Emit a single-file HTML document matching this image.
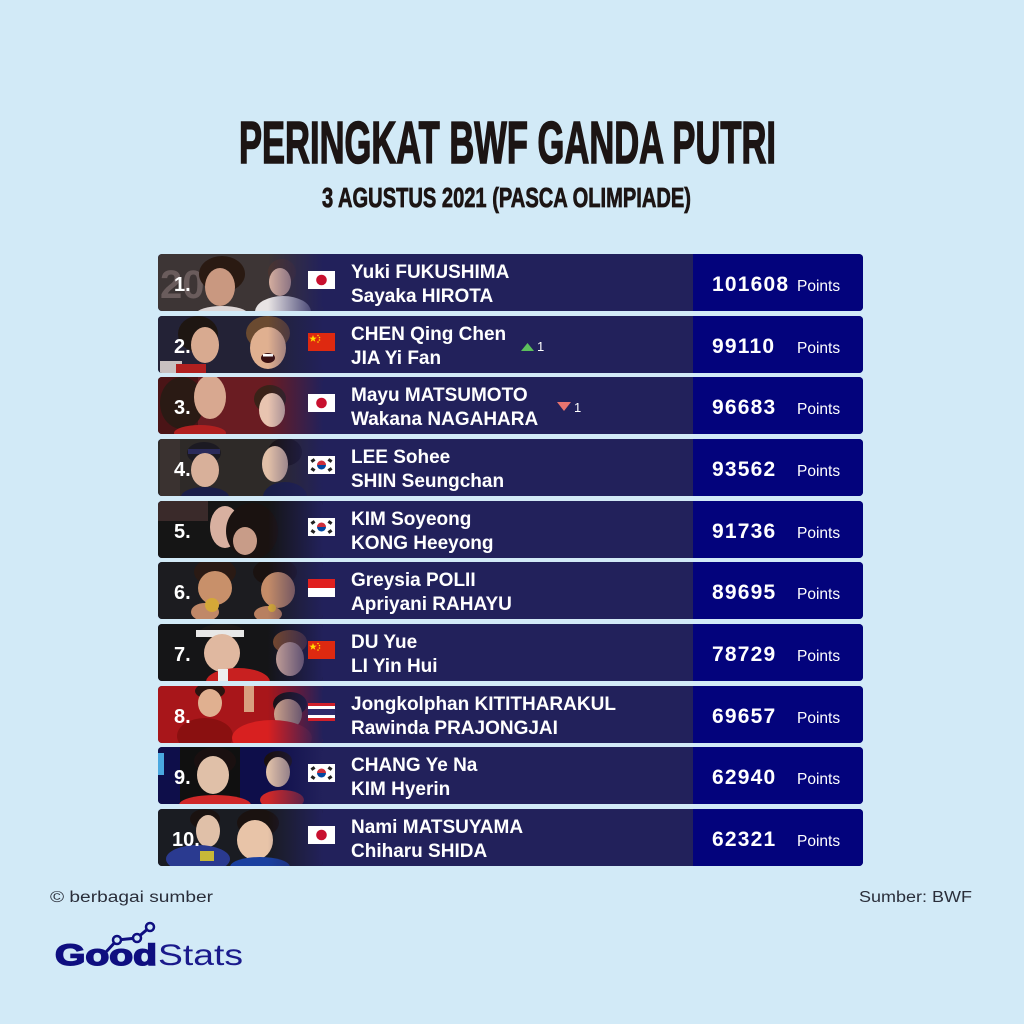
<!DOCTYPE html>
<html>
<head>
<meta charset="utf-8">
<style>
html,body{margin:0;padding:0;background:#d2eaf7;}
svg{display:block;}
.nm{font-family:"Liberation Sans",sans-serif;font-weight:bold;font-size:19px;fill:#ffffff;}
.rk{font-family:"Liberation Sans",sans-serif;font-weight:bold;font-size:20px;fill:#ffffff;}
.pt{font-family:"Liberation Sans",sans-serif;font-weight:bold;font-size:21px;fill:#ffffff;letter-spacing:1.2px;}
.pl{font-family:"Liberation Sans",sans-serif;font-size:15.5px;fill:#ffffff;}
.ind{font-family:"Liberation Sans",sans-serif;font-size:13px;fill:#ffffff;}
</style>
</head>
<body>
<svg width="1024" height="1024" viewBox="0 0 1024 1024" xmlns="http://www.w3.org/2000/svg">
<defs>
  <clipPath id="ph" clipPathUnits="userSpaceOnUse"><rect x="158" y="0" width="165" height="57" rx="4"/></clipPath>
  <linearGradient id="fade" x1="0" y1="0" x2="1" y2="0">
    <stop offset="0" stop-color="#22215b" stop-opacity="0"/>
    <stop offset="1" stop-color="#22215b" stop-opacity="1"/>
  </linearGradient>
  <g id="fJP"><rect x="0" y="0" width="27" height="18" fill="#ffffff"/><circle cx="13.5" cy="9" r="5.3" fill="#c8102e"/></g>
  <g id="fCN"><rect x="0" y="0" width="27" height="18" fill="#de2910"/><polygon points="5,2 6,4.6 8.7,4.6 6.5,6.2 7.3,8.8 5,7.2 2.7,8.8 3.5,6.2 1.3,4.6 4,4.6" fill="#ffde00"/><circle cx="10" cy="2.5" r="0.8" fill="#ffde00"/><circle cx="11.5" cy="4.5" r="0.8" fill="#ffde00"/><circle cx="11.5" cy="7" r="0.8" fill="#ffde00"/><circle cx="10" cy="9" r="0.8" fill="#ffde00"/></g>
  <g id="fKR"><rect x="0" y="0" width="27" height="18" fill="#ffffff"/><path d="M9,9 A4.5,4.5 0 0 1 18,9 Z" fill="#cd2e3a"/><path d="M9,9 A4.5,4.5 0 0 0 18,9 Z" fill="#0047a0"/><rect x="3" y="3" width="4" height="3" fill="#222" transform="rotate(-35 5 4.5)"/><rect x="20" y="3" width="4" height="3" fill="#222" transform="rotate(35 22 4.5)"/><rect x="3" y="12" width="4" height="3" fill="#222" transform="rotate(35 5 13.5)"/><rect x="20" y="12" width="4" height="3" fill="#222" transform="rotate(-35 22 13.5)"/></g>
  <g id="fID"><rect x="0" y="0" width="27" height="9" fill="#e0201f"/><rect x="0" y="9" width="27" height="9" fill="#ffffff"/></g>
  <g id="fTH"><rect x="0" y="0" width="27" height="18" fill="#d0202a"/><rect x="0" y="3" width="27" height="12" fill="#ffffff"/><rect x="0" y="6" width="27" height="6" fill="#2d2a6a"/></g>
</defs>

<rect x="0" y="0" width="1024" height="1024" fill="#d2eaf7"/>

<!-- Title -->
<text x="239" y="163" textLength="537" lengthAdjust="spacingAndGlyphs" font-family="Liberation Sans Narrow, Liberation Sans, sans-serif" font-weight="bold" font-size="59" fill="#1c1514" stroke="#1c1514" stroke-width="1.6">PERINGKAT BWF GANDA PUTRI</text>
<text x="322" y="207" textLength="369" lengthAdjust="spacingAndGlyphs" font-family="Liberation Sans Narrow, Liberation Sans, sans-serif" font-weight="bold" font-size="28" fill="#1c1514" stroke="#1c1514" stroke-width="0.8">3 AGUSTUS 2021 (PASCA OLIMPIADE)</text>

<!-- Row 1 -->
<g transform="translate(0,254)">
  <rect x="158" y="0" width="705" height="57" rx="4" fill="#22215b"/>
  <g clip-path="url(#ph)">
    <rect x="158" y="0" width="165" height="57" fill="#3d3535"/>
    <text x="160" y="44" font-family="Liberation Sans, sans-serif" font-weight="bold" font-size="40" fill="#6a5c5c">20</text>
    <ellipse cx="222" cy="20" rx="23" ry="18" fill="#2a1a12"/>
    <ellipse cx="220" cy="33" rx="15" ry="19" fill="#c99880"/>
    <ellipse cx="222" cy="60" rx="26" ry="8" fill="#ddd6d6"/>
    <ellipse cx="282" cy="18" rx="14" ry="13" fill="#4a3530"/>
    <ellipse cx="280" cy="28" rx="11" ry="14" fill="#d8b0a0"/>
    <ellipse cx="283" cy="58" rx="28" ry="16" fill="#e8e4e4"/>
    <rect x="268" y="0" width="55" height="57" fill="url(#fade)"/>
  </g>
  <text class="rk" x="174" y="37">1.</text>
  <use href="#fJP" x="308" y="17"/>
  <text class="nm" x="351" y="24">Yuki FUKUSHIMA</text>
  <text class="nm" x="351" y="48">Sayaka HIROTA</text>
  <rect x="693" y="0" width="170" height="57" rx="4" fill="#03037c"/><rect x="693" y="0" width="8" height="57" fill="#03037c"/>
  <text class="pt" x="712" y="37">101608</text>
  <text class="pl" x="797" y="37">Points</text>
</g>

<!-- Row 2 -->
<g transform="translate(0,316)">
  <rect x="158" y="0" width="705" height="57" rx="4" fill="#22215b"/>
  <g clip-path="url(#ph)">
    <rect x="158" y="0" width="165" height="57" fill="#232236"/>
    <ellipse cx="198" cy="18" rx="20" ry="18" fill="#1e1612"/>
    <ellipse cx="205" cy="29" rx="14" ry="18" fill="#d8aa90"/>
    <rect x="160" y="45" width="22" height="12" fill="#c8c0c0"/>
    <rect x="176" y="48" width="30" height="9" fill="#b02020"/>
    <ellipse cx="268" cy="17" rx="22" ry="17" fill="#6a4a30"/>
    <ellipse cx="268" cy="32" rx="18" ry="21" fill="#e0b090"/>
    <ellipse cx="268" cy="42" rx="7" ry="5" fill="#3a1010"/>
    <rect x="263" y="38" width="10" height="2.5" fill="#ffffff"/>
    <rect x="268" y="0" width="55" height="57" fill="url(#fade)"/>
  </g>
  <text class="rk" x="174" y="37">2.</text>
  <use href="#fCN" x="308" y="17"/>
  <text class="nm" x="351" y="24">CHEN Qing Chen</text>
  <text class="nm" x="351" y="48">JIA Yi Fan</text>
  <polygon points="521,35 534,35 527.5,27" fill="#5cbf5c"/>
  <text class="ind" x="537" y="35">1</text>
  <rect x="693" y="0" width="170" height="57" rx="4" fill="#03037c"/><rect x="693" y="0" width="8" height="57" fill="#03037c"/>
  <text class="pt" x="712" y="37">99110</text>
  <text class="pl" x="797" y="37">Points</text>
</g>

<!-- Row 3 -->
<g transform="translate(0,377)">
  <rect x="158" y="0" width="705" height="57" rx="4" fill="#22215b"/>
  <g clip-path="url(#ph)">
    <rect x="158" y="0" width="165" height="57" fill="#6a1c22"/>
    <rect x="158" y="0" width="40" height="57" fill="#4a1416"/>
    <ellipse cx="182" cy="26" rx="22" ry="26" fill="#2a1a14"/>
    <ellipse cx="210" cy="20" rx="16" ry="22" fill="#d8a890"/>
    <ellipse cx="200" cy="56" rx="26" ry="8" fill="#b02020"/>
    <ellipse cx="270" cy="22" rx="16" ry="14" fill="#3a2218"/>
    <ellipse cx="272" cy="33" rx="13" ry="17" fill="#e8c4b0"/>
    <rect x="268" y="0" width="55" height="57" fill="url(#fade)"/>
  </g>
  <text class="rk" x="174" y="37">3.</text>
  <use href="#fJP" x="308" y="17"/>
  <text class="nm" x="351" y="24">Mayu MATSUMOTO</text>
  <text class="nm" x="351" y="48">Wakana NAGAHARA</text>
  <polygon points="557,25 571,25 564,34" fill="#e8736f"/>
  <text class="ind" x="574" y="35">1</text>
  <rect x="693" y="0" width="170" height="57" rx="4" fill="#03037c"/><rect x="693" y="0" width="8" height="57" fill="#03037c"/>
  <text class="pt" x="712" y="37">96683</text>
  <text class="pl" x="797" y="37">Points</text>
</g>

<!-- Row 4 -->
<g transform="translate(0,439)">
  <rect x="158" y="0" width="705" height="57" rx="4" fill="#22215b"/>
  <g clip-path="url(#ph)">
    <rect x="158" y="0" width="165" height="57" fill="#2e2a28"/>
    <rect x="160" y="0" width="20" height="57" fill="#3a3230"/>
    <ellipse cx="204" cy="14" rx="17" ry="11" fill="#1c1a22"/>
    <rect x="188" y="10" width="32" height="5" fill="#2a2a5a"/>
    <ellipse cx="205" cy="31" rx="14" ry="17" fill="#d8b09a"/>
    <ellipse cx="205" cy="58" rx="24" ry="10" fill="#1a1e48"/>
    <ellipse cx="285" cy="13" rx="17" ry="14" fill="#1a1412"/>
    <ellipse cx="275" cy="25" rx="13" ry="18" fill="#e2c0a8"/>
    <ellipse cx="285" cy="58" rx="22" ry="15" fill="#1a1e48"/>
    <rect x="268" y="0" width="55" height="57" fill="url(#fade)"/>
  </g>
  <text class="rk" x="174" y="37">4.</text>
  <use href="#fKR" x="308" y="17"/>
  <text class="nm" x="351" y="24">LEE Sohee</text>
  <text class="nm" x="351" y="48">SHIN Seungchan</text>
  <rect x="693" y="0" width="170" height="57" rx="4" fill="#03037c"/><rect x="693" y="0" width="8" height="57" fill="#03037c"/>
  <text class="pt" x="712" y="37">93562</text>
  <text class="pl" x="797" y="37">Points</text>
</g>

<!-- Row 5 -->
<g transform="translate(0,501)">
  <rect x="158" y="0" width="705" height="57" rx="4" fill="#22215b"/>
  <g clip-path="url(#ph)">
    <rect x="158" y="0" width="165" height="57" fill="#151515"/>
    <rect x="158" y="0" width="50" height="20" fill="#3a2a2a"/>
    <ellipse cx="225" cy="26" rx="15" ry="21" fill="#d8b0a0"/>
    <ellipse cx="252" cy="30" rx="26" ry="28" fill="#1a1210"/>
    <ellipse cx="245" cy="40" rx="12" ry="14" fill="#c89c88"/>
    <rect x="268" y="0" width="55" height="57" fill="url(#fade)"/>
  </g>
  <text class="rk" x="174" y="37">5.</text>
  <use href="#fKR" x="308" y="17"/>
  <text class="nm" x="351" y="24">KIM Soyeong</text>
  <text class="nm" x="351" y="48">KONG Heeyong</text>
  <rect x="693" y="0" width="170" height="57" rx="4" fill="#03037c"/><rect x="693" y="0" width="8" height="57" fill="#03037c"/>
  <text class="pt" x="712" y="37">91736</text>
  <text class="pl" x="797" y="37">Points</text>
</g>

<!-- Row 6 -->
<g transform="translate(0,562)">
  <rect x="158" y="0" width="705" height="57" rx="4" fill="#22215b"/>
  <g clip-path="url(#ph)">
    <rect x="158" y="0" width="165" height="57" fill="#1c1c20"/>
    <ellipse cx="215" cy="10" rx="21" ry="14" fill="#2a1a14"/>
    <ellipse cx="215" cy="26" rx="17" ry="17" fill="#c8906a"/>
    <ellipse cx="205" cy="50" rx="14" ry="9" fill="#c08868"/>
    <circle cx="212" cy="43" r="7" fill="#d4a838"/>
    <ellipse cx="275" cy="10" rx="22" ry="14" fill="#1a1210"/>
    <ellipse cx="278" cy="28" rx="17" ry="18" fill="#c48c68"/>
    <ellipse cx="268" cy="52" rx="14" ry="8" fill="#b88060"/>
    <circle cx="272" cy="46" r="4" fill="#d4a838"/>
    <rect x="268" y="0" width="55" height="57" fill="url(#fade)"/>
  </g>
  <text class="rk" x="174" y="37">6.</text>
  <use href="#fID" x="308" y="17"/>
  <text class="nm" x="351" y="24">Greysia POLII</text>
  <text class="nm" x="351" y="48">Apriyani RAHAYU</text>
  <rect x="693" y="0" width="170" height="57" rx="4" fill="#03037c"/><rect x="693" y="0" width="8" height="57" fill="#03037c"/>
  <text class="pt" x="712" y="37">89695</text>
  <text class="pl" x="797" y="37">Points</text>
</g>

<!-- Row 7 -->
<g transform="translate(0,624)">
  <rect x="158" y="0" width="705" height="57" rx="4" fill="#22215b"/>
  <g clip-path="url(#ph)">
    <rect x="158" y="0" width="165" height="57" fill="#151517"/>
    <ellipse cx="222" cy="8" rx="22" ry="8" fill="#1e1a18"/>
    <rect x="196" y="6" width="48" height="7" fill="#e8e8e8"/>
    <ellipse cx="222" cy="29" rx="18" ry="19" fill="#e0b8a0"/>
    <ellipse cx="238" cy="58" rx="32" ry="14" fill="#c82020"/>
    <rect x="218" y="45" width="10" height="12" fill="#eeeeee"/>
    <ellipse cx="290" cy="18" rx="17" ry="12" fill="#7a4a2a"/>
    <ellipse cx="290" cy="35" rx="14" ry="17" fill="#d8b0a0"/>
    <rect x="268" y="0" width="55" height="57" fill="url(#fade)"/>
  </g>
  <text class="rk" x="174" y="37">7.</text>
  <use href="#fCN" x="308" y="17"/>
  <text class="nm" x="351" y="24">DU Yue</text>
  <text class="nm" x="351" y="48">LI Yin Hui</text>
  <rect x="693" y="0" width="170" height="57" rx="4" fill="#03037c"/><rect x="693" y="0" width="8" height="57" fill="#03037c"/>
  <text class="pt" x="712" y="37">78729</text>
  <text class="pl" x="797" y="37">Points</text>
</g>

<!-- Row 8 -->
<g transform="translate(0,686)">
  <rect x="158" y="0" width="705" height="57" rx="4" fill="#22215b"/>
  <g clip-path="url(#ph)">
    <rect x="158" y="0" width="165" height="57" fill="#a8161a"/>
    <ellipse cx="210" cy="5" rx="15" ry="8" fill="#2a1410"/>
    <ellipse cx="210" cy="17" rx="12" ry="14" fill="#e0b090"/>
    <ellipse cx="205" cy="50" rx="28" ry="18" fill="#8a1010"/>
    <rect x="244" y="0" width="10" height="26" fill="#d8a080"/>
    <ellipse cx="290" cy="18" rx="17" ry="12" fill="#1a1010"/>
    <ellipse cx="288" cy="28" rx="14" ry="15" fill="#e0b090"/>
    <ellipse cx="272" cy="52" rx="40" ry="18" fill="#d82020"/>
    <rect x="268" y="0" width="55" height="57" fill="url(#fade)"/>
  </g>
  <text class="rk" x="174" y="37">8.</text>
  <use href="#fTH" x="308" y="17"/>
  <text class="nm" x="351" y="24">Jongkolphan KITITHARAKUL</text>
  <text class="nm" x="351" y="48">Rawinda PRAJONGJAI</text>
  <rect x="693" y="0" width="170" height="57" rx="4" fill="#03037c"/><rect x="693" y="0" width="8" height="57" fill="#03037c"/>
  <text class="pt" x="712" y="37">69657</text>
  <text class="pl" x="797" y="37">Points</text>
</g>

<!-- Row 9 -->
<g transform="translate(0,747)">
  <rect x="158" y="0" width="705" height="57" rx="4" fill="#22215b"/>
  <g clip-path="url(#ph)">
    <rect x="158" y="0" width="165" height="57" fill="#0e0e4a"/>
    <rect x="158" y="6" width="6" height="22" fill="#4aa8e0"/>
    <rect x="180" y="0" width="60" height="57" fill="#101010"/>
    <ellipse cx="215" cy="14" rx="21" ry="14" fill="#1a1010"/>
    <ellipse cx="213" cy="28" rx="16" ry="19" fill="#e0c0a8"/>
    <ellipse cx="215" cy="58" rx="36" ry="10" fill="#d02828"/>
    <ellipse cx="278" cy="14" rx="14" ry="10" fill="#1a1010"/>
    <ellipse cx="278" cy="25" rx="12" ry="15" fill="#e0c0a8"/>
    <ellipse cx="282" cy="53" rx="22" ry="10" fill="#d02828"/>
    <rect x="268" y="0" width="55" height="57" fill="url(#fade)"/>
  </g>
  <text class="rk" x="174" y="37">9.</text>
  <use href="#fKR" x="308" y="17"/>
  <text class="nm" x="351" y="24">CHANG Ye Na</text>
  <text class="nm" x="351" y="48">KIM Hyerin</text>
  <rect x="693" y="0" width="170" height="57" rx="4" fill="#03037c"/><rect x="693" y="0" width="8" height="57" fill="#03037c"/>
  <text class="pt" x="712" y="37">62940</text>
  <text class="pl" x="797" y="37">Points</text>
</g>

<!-- Row 10 -->
<g transform="translate(0,809)">
  <rect x="158" y="0" width="705" height="57" rx="4" fill="#22215b"/>
  <g clip-path="url(#ph)">
    <rect x="158" y="0" width="165" height="57" fill="#1a1c22"/>
    <ellipse cx="205" cy="10" rx="15" ry="10" fill="#1a1210"/>
    <ellipse cx="208" cy="22" rx="12" ry="16" fill="#e0c0a8"/>
    <ellipse cx="198" cy="50" rx="32" ry="14" fill="#2a3a90"/>
    <rect x="200" y="42" width="14" height="10" fill="#c8b838"/>
    <ellipse cx="258" cy="14" rx="21" ry="14" fill="#1a1210"/>
    <ellipse cx="255" cy="31" rx="18" ry="20" fill="#e8c4a8"/>
    <ellipse cx="260" cy="58" rx="30" ry="10" fill="#1a40a0"/>
    <rect x="268" y="0" width="55" height="57" fill="url(#fade)"/>
  </g>
  <text class="rk" x="172" y="37">10.</text>
  <use href="#fJP" x="308" y="17"/>
  <text class="nm" x="351" y="24">Nami MATSUYAMA</text>
  <text class="nm" x="351" y="48">Chiharu SHIDA</text>
  <rect x="693" y="0" width="170" height="57" rx="4" fill="#03037c"/><rect x="693" y="0" width="8" height="57" fill="#03037c"/>
  <text class="pt" x="712" y="37">62321</text>
  <text class="pl" x="797" y="37">Points</text>
</g>

<!-- Footer -->
<text x="50" y="902" textLength="163" lengthAdjust="spacingAndGlyphs" font-family="Liberation Sans, sans-serif" font-size="15.5" fill="#2a2e3a">© berbagai sumber</text>
<text x="859" y="902" textLength="113" lengthAdjust="spacingAndGlyphs" font-family="Liberation Sans, sans-serif" font-size="15.5" fill="#2a2e3a">Sumber: BWF</text>

<!-- Logo -->
<polyline points="106,952 117,940 137,938 150,927" fill="none" stroke="#0f0f80" stroke-width="3"/>
<circle cx="117" cy="940" r="4" fill="#d2eaf7" stroke="#0f0f80" stroke-width="2.5"/>
<circle cx="137" cy="938" r="4" fill="#d2eaf7" stroke="#0f0f80" stroke-width="2.5"/>
<circle cx="150" cy="927" r="4" fill="#d2eaf7" stroke="#0f0f80" stroke-width="2.5"/>
<text x="55" y="965" textLength="102" lengthAdjust="spacingAndGlyphs" font-family="Liberation Sans, sans-serif" font-weight="bold" font-size="30" fill="#0f0f80" stroke="#0f0f80" stroke-width="1.5">Good</text>
<text x="158" y="965" textLength="85" lengthAdjust="spacingAndGlyphs" font-family="Liberation Sans, sans-serif" font-size="30" fill="#1a1a8c">Stats</text>
</svg>
</body>
</html>
